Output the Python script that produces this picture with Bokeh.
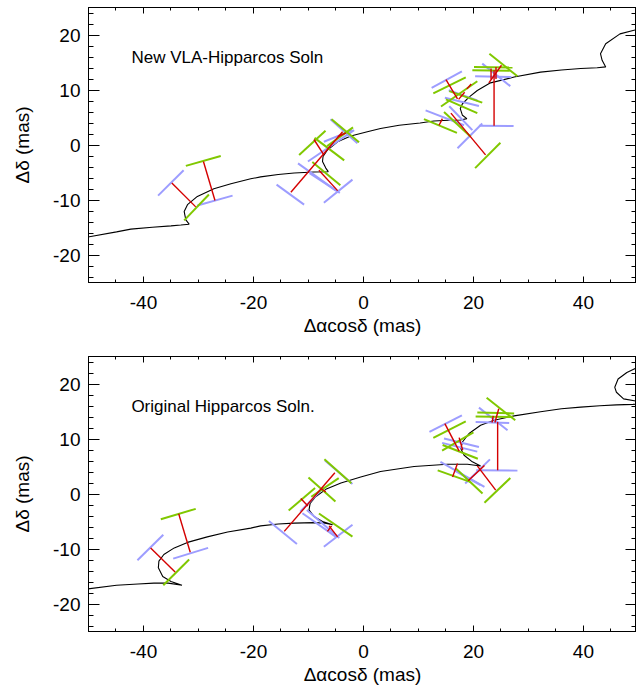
from bokeh.plotting import figure
from bokeh.models import LinearAxis, FixedTicker, Label, ColumnDataSource, Range1d
from bokeh.layouts import column
from bokeh.embed import file_html
from bokeh.resources import INLINE

# ---------------- data (mas) ----------------
x_ticks = [-40, -20, 0, 20, 40]
x_tick_labels = ["-40", "-20", "0", "20", "40"]
y_ticks = [-20, -10, 0, 10, 20]
y_tick_labels = ["-20", "-10", "0", "10", "20"]

top_title = "New VLA-Hipparcos Soln"
bottom_title = "Original Hipparcos Soln."

top_curve_x = [-50.5, -44.9, -42.3, -38.4, -35.0, -33.2, -31.7, -32.3, -32.6, -32.0, -30.2, -27.2, -24.1,
               -20.5, -18.7, -15.5, -12.6, -9.0, -6.4, -6.85, -7.45, -7.35, -6.55, -4.7, -2.3, 0.7, 3.1,
               6.5, 10.3, 12.8, 15.5, 17.7, 18.8, 18.0, 17.6, 18.0, 19.2, 20.7, 23.1, 27.4, 32.2, 36.0,
               39.5, 42.5, 44.05, 43.4, 43.1, 44.05, 46.65, 50.5]
top_curve_y = [-16.8, -15.8, -15.3, -14.95, -14.7, -14.55, -14.4, -13.6, -12.1, -10.85, -9.35, -7.96, -7.05,
               -6.15, -5.8, -5.35, -5.1, -4.9, -4.85, -4.2, -3.0, -2.1, -0.9, 0.6, 1.63, 2.4, 3.0,
               3.6, 4.0, 4.35, 4.5, 4.55, 4.8, 5.4, 6.6, 7.5, 8.7, 9.9, 11.3, 12.35, 13.25, 13.65,
               13.9, 14.05, 14.2, 15.4, 16.6, 18.4, 20.2, 21.2]

bottom_curve_x = [-50.5, -44.9, -41.0, -38.1, -35.5, -33.0, -35.0, -36.5, -37.3, -37.2, -36.3, -34.4, -32.0,
                  -28.4, -24.7, -20.5, -18.7, -15.5, -12.6, -9.0, -7.0, -5.6, -7.45, -9.0, -9.9, -9.7, -8.7,
                  -6.85, -4.1, -0.5, 3.1, 9.2, 15.3, 18.9, 21.3, 19.8, 18.3, 17.7, 18.0, 19.2, 21.3, 23.75,
                  27.4, 32.2, 36.0, 39.5, 43.0, 46.0, 49.0, 51.5, 49.5, 47.3, 46.0, 45.7, 46.3, 47.9, 50.4, 52.0]
bottom_curve_y = [-17.3, -16.6, -16.35, -16.2, -16.2, -16.6, -15.9, -15.0, -13.4, -12.2, -11.0, -9.8, -8.8,
                  -7.8, -6.9, -6.2, -5.8, -5.45, -5.3, -5.2, -5.3, -5.6, -5.0, -4.1, -2.9, -1.7, -0.5,
                  0.85, 2.0, 3.1, 4.1, 5.0, 5.4, 5.4, 5.1, 5.85, 7.05, 8.25, 9.45, 11.0, 12.5, 13.4,
                  14.2, 14.95, 15.5, 15.8, 16.05, 16.2, 16.3, 16.4, 16.9, 17.3, 18.5, 19.4, 20.9, 22.1, 23.3, 24.0]

# segments as (x0, y0, x1, y1)
top_green = [(-32.3, -3.8, -25.95, -2.0), (-32.6, -13.7, -28.1, -9.0),
             (-11.7, -1.8, -6.9, 2.6), (-9.3, -3.1, -4.2, -7.3), (-8.9, 1.3, -3.5, -2.8),
             (-6.6, -0.2, -1.9, 3.2), (-5.8, 4.7, -0.8, 0.5),
             (22.9, 16.6, 28.0, 12.5), (20.1, 14.2, 27.1, 14.1), (19.8, 13.6, 26.6, 13.5),
             (12.7, 9.4, 18.6, 12.3), (14.1, 7.0, 20.7, 11.6), (15.0, 8.3, 20.7, 5.8),
             (11.0, 4.7, 17.0, 2.2), (20.3, -4.2, 24.9, 0.4), (15.6, 9.8, 21.6, 7.7),
             (14.65, 6.0, 19.5, 1.5)]
top_blue = [(-30.2, -11.0, -23.8, -9.2), (-37.35, -9.2, -32.7, -4.6),
            (-15.8, -7.2, -10.8, -10.85), (-7.2, -10.5, -2.0, -6.3), (-11.9, -3.35, -5.0, -8.3),
            (-10.1, -3.0, -1.7, 2.7), (-6.0, 4.7, -1.1, 0.3), (-7.2, 0.6, -2.0, 2.7),
            (-9.8, -5.1, -4.3, -8.7),
            (21.6, 14.8, 26.7, 10.7), (20.3, 12.5, 26.9, 12.35), (21.0, 3.5, 27.3, 3.45),
            (12.4, 10.4, 17.9, 13.4), (15.5, 9.95, 20.7, 8.1), (14.8, 8.6, 21.0, 7.1),
            (11.3, 6.3, 18.3, 3.6), (17.1, -0.6, 21.6, 3.9), (15.6, 7.05, 19.8, 2.7)]
top_red = [(-29.1, -3.0, -27.0, -10.1), (-34.85, -6.9, -30.5, -11.25),
           (-13.2, -8.6, -3.8, 2.4), (-4.7, -8.3, -8.1, -4.6), (-9.0, 1.0, -7.2, -1.8),
           (-4.65, 1.5, -3.2, 2.2),
           (23.75, 13.6, 23.75, 3.5), (23.2, 13.9, 23.2, 11.9), (24.1, 14.2, 24.1, 12.0),
           (25.1, 14.5, 22.8, 11.3), (15.0, 11.9, 17.1, 8.4), (15.9, 5.8, 22.2, -1.8),
           (13.75, 3.6, 14.35, 4.8), (17.3, 8.3, 18.4, 9.6), (18.8, 10.2, 19.6, 11.1)]

bottom_green = [(-36.85, -4.6, -30.5, -2.7), (-36.4, -16.6, -31.7, -11.9),
                (-7.1, 6.3, -2.2, 1.95), (-10.0, 3.0, -5.1, -1.35), (-13.6, -3.0, -8.8, 1.1),
                (-9.5, -0.5, -4.5, 2.9), (-8.1, -3.55, -2.0, -7.75),
                (22.4, 17.5, 27.6, 13.4), (20.7, 14.8, 27.4, 14.65), (20.4, 14.1, 27.2, 14.0),
                (12.7, 10.2, 18.6, 13.2), (14.3, 7.9, 20.0, 11.2), (14.4, 8.9, 20.8, 6.4),
                (13.5, 4.3, 19.4, 2.2), (16.8, 4.65, 21.65, 0.1), (22.0, -1.6, 26.7, 2.9)]
bottom_blue = [(-34.6, -11.75, -28.25, -9.8), (-41.1, -12.05, -36.4, -7.4),
               (-17.2, -4.9, -12.1, -9.1), (-7.2, -9.6, -2.0, -5.6), (-11.1, -3.5, -5.0, -7.8),
               (-10.3, -2.9, -4.4, -8.0), (-7.0, 6.1, -2.0, 1.8), (-11.5, -3.2, -7.2, 1.2),
               (21.0, 15.7, 26.2, 11.6), (20.4, 13.1, 26.5, 12.9), (20.5, 4.3, 28.0, 4.25),
               (12.0, 11.3, 17.9, 14.3), (14.65, 10.1, 21.0, 8.55), (14.3, 9.3, 20.7, 7.7),
               (14.0, 5.85, 22.0, 1.3), (18.5, 1.9, 23.0, 6.3), (16.5, 4.3, 21.3, 1.6)]
bottom_red = [(-33.6, -3.6, -31.5, -10.6), (-38.7, -9.8, -34.25, -14.2),
              (-14.4, -6.8, -5.2, 3.85), (-11.4, -0.8, -10.1, -2.2), (-7.75, 1.0, -6.85, 0.4),
              (-6.25, -5.8, -4.7, -7.8), (-6.55, -6.8, -5.8, -5.8),
              (24.4, 13.1, 24.4, 4.3), (24.6, 15.5, 23.9, 13.0), (23.6, 14.2, 23.4, 13.0),
              (14.8, 12.8, 17.4, 7.8), (20.7, 5.1, 24.05, 0.7), (16.2, 3.1, 17.1, 5.55),
              (19.05, 2.4, 22.0, 5.2), (17.4, 10.25, 18.05, 7.95)]

GREEN = "#80c800"
BLUE = "#9d9dff"
RED = "#d40000"
FONT = "Liberation Sans"


def seg_source(segs):
    return ColumnDataSource(dict(
        x0=[s[0] for s in segs], y0=[s[1] for s in segs],
        x1=[s[2] for s in segs], y1=[s[3] for s in segs]))


def style_axis(ax, ticks, labels, minor, tick_in, minor_in, show_labels):
    ax.ticker = FixedTicker(ticks=ticks, minor_ticks=minor)
    ax.major_tick_in = tick_in
    ax.major_tick_out = 0
    ax.minor_tick_in = minor_in
    ax.minor_tick_out = 0
    ax.axis_line_color = "black"
    ax.major_tick_line_color = "black"
    ax.minor_tick_line_color = "black"
    ax.axis_line_width = 1
    if show_labels:
        ax.major_label_overrides = {t: l for t, l in zip(ticks, labels)}
        ax.major_label_text_font = FONT
        ax.major_label_text_font_size = "19px"
        ax.major_label_text_color = "black"
        ax.axis_label_text_font = FONT
        ax.axis_label_text_font_size = "19px"
        ax.axis_label_text_font_style = "normal"
        ax.axis_label_text_color = "black"
    else:
        ax.major_label_text_color = None
        ax.major_label_text_font_size = "1px"
        ax.major_label_standoff = 0
        ax.axis_label = None


def make_panel(cx, cy, green, blue, red, title, height, top_b, bottom_b):
    p = figure(width=636, height=height, x_range=Range1d(-50, 49.65), y_range=Range1d(-25, 25),
               output_backend="svg", toolbar_location=None,
               min_border_left=88, min_border_right=0, min_border_top=top_b, min_border_bottom=bottom_b)
    p.grid.visible = False
    p.outline_line_color = "black"
    p.outline_line_width = 1
    p.background_fill_color = "white"
    p.border_fill_color = "white"

    xminor = [v for v in range(-50, 55, 5)]
    yminor = [v for v in range(-24, 26, 2)]

    style_axis(p.xaxis[0], x_ticks, x_tick_labels, xminor, 6, 3, True)
    p.xaxis[0].axis_label = "\u0394\u03b1cos\u03b4 (mas)"
    p.xaxis[0].major_label_standoff = 13
    p.xaxis[0].axis_label_standoff = 3
    style_axis(p.yaxis[0], y_ticks, y_tick_labels, yminor, 11, 5, True)
    p.yaxis[0].axis_label = "\u0394\u03b4 (mas)"
    p.yaxis[0].major_label_standoff = 8
    p.yaxis[0].axis_label_standoff = 17

    top_ax = LinearAxis()
    style_axis(top_ax, x_ticks, x_tick_labels, xminor, 6, 3, False)
    p.add_layout(top_ax, "above")
    right_ax = LinearAxis()
    style_axis(right_ax, y_ticks, y_tick_labels, yminor, 11, 5, False)
    p.add_layout(right_ax, "right")

    p.line(cx, cy, line_color="black", line_width=1.1)
    p.segment("x0", "y0", "x1", "y1", source=seg_source(blue), line_color=BLUE, line_width=2)
    p.segment("x0", "y0", "x1", "y1", source=seg_source(green), line_color=GREEN, line_width=2)
    p.segment("x0", "y0", "x1", "y1", source=seg_source(red), line_color=RED, line_width=1.4)

    p.add_layout(Label(x=-42.2, y=15.9, text=title, text_font=FONT, text_font_size="17px",
                       text_color="black", text_baseline="alphabetic"))
    return p


p1 = make_panel(top_curve_x, top_curve_y, top_green, top_blue, top_red, top_title, 348, 7, 66)
p2 = make_panel(bottom_curve_x, bottom_curve_y, bottom_green, bottom_blue, bottom_red, bottom_title, 339, 8, 56)

layout = column(p1, p2)
open("out.html", "w").write(file_html(layout, INLINE))
